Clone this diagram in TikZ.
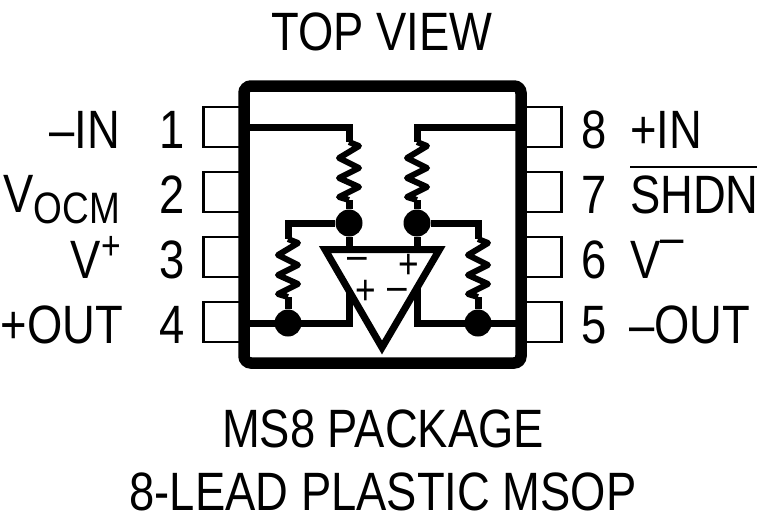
\documentclass[tikz,border=0pt]{standalone}
\usepackage{fontspec}
\setmainfont[FakeStretch=0.84]{Liberation Sans}
\tikzset{
    x=1pt, y=-1pt,
    pin-box/.style = {draw=black, fill=white, line width=2.8pt, rectangle, minimum width=41pt, minimum height=40pt, inner sep=0pt},
    chip-box/.style = {draw=black, line width=11.5pt, rectangle, rounded corners=7pt, minimum width=277pt, minimum height=277pt, inner sep=0pt},
    wire/.style = {draw=black, line width=7pt, line join=miter},
    big-dot/.style = {fill=black, circle, minimum size=27pt, inner sep=0pt},
    big-text/.style = {font=\fontsize{54}{54}\selectfont, inner sep=0pt},
    amp-sign/.style = {font=\fontsize{42}{42}\selectfont, inner sep=0pt},
    resistor/.pic = {
        \draw[draw=black, line width=6pt, line join=round] (0,0) -- (10,4) -- (-10,16) -- (10,26) -- (-10,36) -- (10,45) -- (-10,55) -- (0,58);
        \coordinate (-top) at (0,0);
        \coordinate (-bot) at (0,58);
    },
}

\begin{document}
\begin{tikzpicture}
\useasboundingbox (0,0) rectangle (760,530);

\node [pin-box] (pin1) at (224,127) {};
\node [pin-box] (pin2) at (224,192) {};
\node [pin-box] (pin3) at (224,257) {};
\node [pin-box] (pin4) at (224,322) {};
\node [pin-box] (pin8) at (541,127) {};
\node [pin-box] (pin7) at (541,192) {};
\node [pin-box] (pin6) at (541,257) {};
\node [pin-box] (pin5) at (541,322) {};
\node [chip-box] (chip) at (382.5,224.5) {};

\pic (res-a) at (349,142) {resistor};
\pic (res-b) at (417,142) {resistor};
\pic (res-c) at (288,239) {resistor};
\pic (res-d) at (478,239) {resistor};

\node [big-dot] (dot-a) at (349,223) {};
\node [big-dot] (dot-b) at (417,223) {};
\node [big-dot] (dot-c) at (288,323) {};
\node [big-dot] (dot-d) at (478,323) {};

\coordinate (amp-l) at (325,249.5);
\coordinate (amp-r) at (439.5,249.5);
\coordinate (amp-o) at (382,347.5);
\coordinate (out-c) at (349,290);
\coordinate (out-d) at (417,288);

\draw[wire, shorten <=6pt] (chip.west |- pin1) -| (res-a-top);
\draw[wire, shorten <=6pt] (chip.east |- pin8) -| (res-b-top);
\draw[wire] (res-a-bot) -- (dot-a);
\draw[wire] (res-b-bot) -- (dot-b);
\draw[wire] (dot-a) -| (res-c-top);
\draw[wire] (dot-b) -| (res-d-top);
\draw[wire] (res-c-bot) -- (dot-c);
\draw[wire] (res-d-bot) -- (dot-d);
\draw[wire] (dot-a) -- (dot-a |- amp-l);
\draw[wire] (dot-b) -- (dot-b |- amp-r);
\draw[wire, shorten <=6pt] (chip.west |- dot-c) -- (dot-c -| out-c) -- (out-c);
\draw[wire, shorten <=6pt] (chip.east |- dot-d) -- (dot-d -| out-d) -- (out-d);
\draw[wire, fill=white] (amp-l) -- (amp-r) -- (amp-o) -- cycle;

\node [amp-sign] (sign-a) at (357,263) {–};
\node [amp-sign] (sign-b) at (409,266) {+};
\node [amp-sign] (sign-c) at (366,292) {+};
\node [amp-sign] (sign-d) at (397,294) {–};

\node [big-text, anchor=base] (title) at (382,50) {TOP VIEW};
\node [big-text, anchor=base] (pkg-a) at (383,447) {MS8 PACKAGE};
\node [big-text, anchor=base] (pkg-b) at (383,510) {8-LEAD PLASTIC MSOP};

\node [big-text, anchor=base] (num1) at (172,148) {1};
\node [big-text, anchor=base] (num2) at (172,213) {2};
\node [big-text, anchor=base] (num3) at (172,278) {3};
\node [big-text, anchor=base] (num4) at (172,343) {4};
\node [big-text, anchor=base] (num8) at (594,148) {8};
\node [big-text, anchor=base] (num7) at (594,213) {7};
\node [big-text, anchor=base] (num6) at (594,278) {6};
\node [big-text, anchor=base] (num5) at (594,343) {5};

\node [big-text, anchor=base east] (lbl1) at (120,148) {–IN};
\node [big-text, anchor=base east] (lbl2) at (120,212) {V\raisebox{-11pt}{\fontsize{44}{44}\selectfont OCM}};
\node [big-text, anchor=base east] (lbl3) at (121,278) {V\raisebox{19pt}{\fontsize{40}{40}\selectfont +}};
\node [big-text, anchor=base east] (lbl4) at (123,343) {+OUT};
\node [big-text, anchor=base west] (lbl8) at (630,148) {+IN};
\node [big-text, anchor=base west] (lbl7) at (630,213) {SHDN};
\node [big-text, anchor=base west] (lbl6) at (630,278) {V\raisebox{24pt}{\fontsize{50}{50}\selectfont –}};
\node [big-text, anchor=base west] (lbl5) at (629,343) {–OUT};
\draw[line width=2.5pt] (lbl7.north west |- 0,167) -- (757,167);
\end{tikzpicture}
\end{document}
